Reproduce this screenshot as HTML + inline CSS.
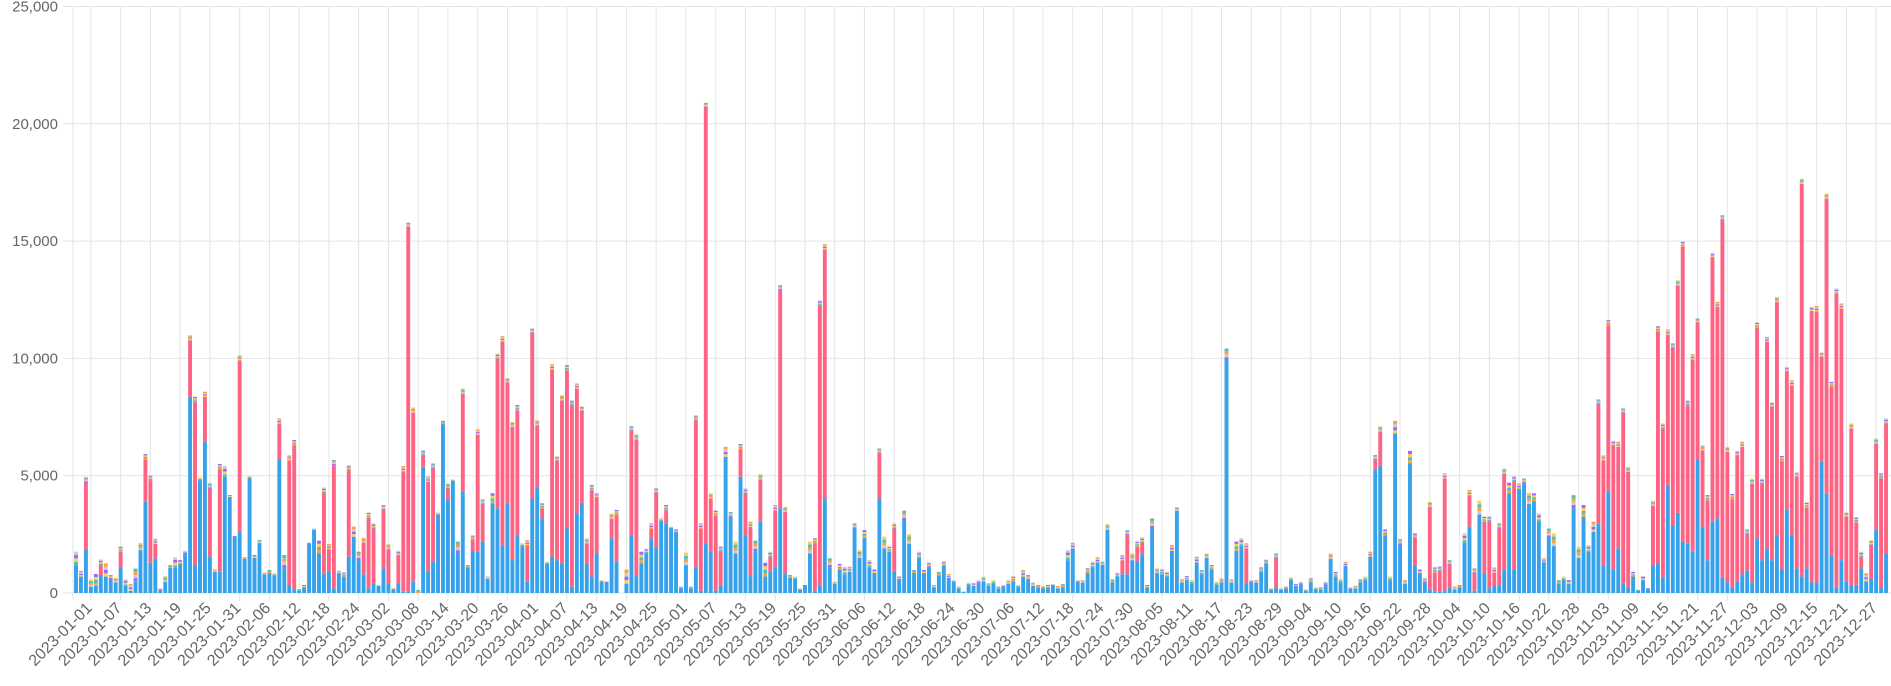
<!DOCTYPE html>
<html><head><meta charset="utf-8">
<style>
html,body{margin:0;padding:0;background:#fff;}
svg{display:block;}
text{font-family:"Liberation Sans",Arial,sans-serif;fill:#666;font-size:15px;}
text.xl{font-size:16px;}
</style></head>
<body>
<svg id="c" width="1891" height="686" xmlns="http://www.w3.org/2000/svg"></svg>
<script>
const T=[1760,950,4930,580,810,1430,1260,770,650,1970,580,380,1040,2140,5920,5030,2310,200,720,1190,1520,1400,1800,10990,8360,4930,8580,4670,1000,5500,5410,4170,2430,10140,1520,4980,1620,2260,870,980,840,7440,1620,5880,6520,160,340,2140,2750,2230,4500,2090,5670,950,870,5450,2830,1760,2370,3420,2970,340,3750,2090,200,1800,5410,15780,7910,130,6090,4960,5520,3420,7340,4670,4840,2190,8720,1190,2470,6970,3990,700,4250,10210,10950,9140,7300,8010,2120,2260,11270,7370,3820,1330,9750,5810,8430,9710,8220,8930,7940,2330,4600,4270,550,480,3390,3540,0,1000,7110,6770,1760,1900,2970,4460,3180,3750,2830,2710,270,
1720,270,7580,2970,20890,4250,3510,2000,6230,3450,2190,6350,4460,3040,2230,5070,1290,1760,3750,13120,3680,770,700,200,340,2190,2330,12480,14870,1480,480,1240,1120,1120,2970,1830,2680,1400,1000,6160,2400,1970,2970,700,3510,2510,980,1760,980,1290,340,900,1360,810,550,270,60,440,410,550,700,410,550,270,340,530,700,340,980,770,440,340,300,340,380,300,380,1830,2140,550,550,1050,1330,1520,1330,2940,580,870,1620,2680,1690,2190,2370,340,3180,1050,1000,900,2040,3650,580,720,550,1550,980,1690,1190,480,620,10420,580,2190,2330,2120,550,550,1090,1430,200,1690,200,270,670,380,
480,160,620,240,240,480,1690,900,600,1330,240,300,580,700,1760,5880,7110,2710,700,7340,2290,550,6060,2570,1000,620,3890,1090,1150,5100,1400,270,340,2540,4390,1050,3930,3250,3280,1090,2970,5310,4700,4980,4670,4880,4270,4250,3390,1480,2750,2540,550,700,550,4170,1970,3750,2040,3040,8250,5880,11630,6490,6450,7870,5380,900,130,700,200,3930,11370,7230,11230,10640,13330,14970,8220,10180,11700,6300,4170,14500,12410,16100,6230,4220,6060,6450,2710,4880,11520,4880,10920,8110,12620,5840,9640,9070,5130,17660,3850,12200,12230,10240,17030,9000,12980,12340,3420,7230,3220,1760,840,2230,6590,5100,7440];
const B=[1190,700,1830,270,300,770,700,600,450,1090,300,100,500,1830,3890,1290,1480,100,470,1070,1070,1260,1650,8360,1190,4800,6450,1550,900,900,4950,4100,2400,2610,1450,4900,1500,2100,800,850,750,5670,1050,340,130,100,250,2100,2700,1700,840,900,200,850,700,1550,2400,1400,800,200,400,300,1050,400,150,400,50,50,480,0,5380,900,1330,3350,7200,3960,4800,1700,4320,1100,1770,1760,2190,600,3820,3610,2000,3820,1400,2470,2000,480,4030,4530,3180,1250,1550,1400,1270,2750,270,3390,3850,1270,700,1700,500,450,2330,1330,0,400,2470,720,1270,1700,2330,1970,3100,2970,2750,2600,200,
1190,200,1120,100,2120,1760,100,300,5810,3250,1690,4960,2470,720,1760,3040,700,900,1120,3610,840,650,600,150,300,1690,100,300,4030,1100,400,1000,800,900,2750,1500,2350,1100,850,4030,1900,1750,900,600,3110,2100,850,1500,850,1100,250,750,1150,650,450,200,40,350,300,400,500,300,400,200,250,400,500,250,700,550,300,250,200,250,300,200,250,1400,1900,450,450,850,1100,1300,1150,2700,450,700,800,800,1400,1350,1650,250,2750,850,800,700,1800,3450,450,550,400,1300,800,1500,1000,350,450,9930,450,1800,2000,400,450,450,900,1250,150,250,150,200,550,300,
350,100,450,150,150,350,1450,700,450,1150,150,200,450,550,1550,5240,5450,2450,550,6800,2050,400,5520,1150,850,450,150,50,50,100,250,150,250,2150,2830,100,3350,850,200,300,300,1000,4250,1000,4450,4700,3800,3900,3050,1300,2350,2000,400,550,400,3610,1500,3250,1750,2600,2970,1150,4320,1000,1900,400,250,700,100,550,150,1150,1260,650,4560,2900,3420,2190,2100,1760,5670,2830,1400,3040,3180,650,450,250,500,800,950,450,2330,1400,1900,1400,2470,1000,3540,2470,1050,700,1050,450,450,5600,4250,1620,250,1400,500,300,350,1050,500,600,2680,250,1690];
const colsCap=['#4bc0c0','#ffcd56','#9966ff','#c9cbcf','#ff9f40'];
const svg=document.getElementById('c');
let h='';
const y0=593, k=117.3/5000, x0=76, p=4.959, bw=3.9;
const Y=v=>y0-v*k;
for(let i=0;i<=5;i++){const y=Y(i*5000);
 h+=`<line x1="63" x2="1891" y1="${y}" y2="${y}" stroke="#e4e4e4" stroke-width="1"/>`;
 h+=`<text x="58" y="${y+5}" text-anchor="end">${(i*5000).toLocaleString('en-US')}</text>`;}
h+=`<line x1="73" x2="73" y1="6" y2="601" stroke="#e4e4e4"/>`;
const d0=new Date(Date.UTC(2023,0,1));
for(let j=0;j<=60;j++){const x=x0+p*(3+6*j);
 h+=`<line x1="${x}" x2="${x}" y1="6" y2="601" stroke="#e4e4e4"/>`;
 const d=new Date(d0.getTime()+j*6*86400000);
 const s=d.toISOString().slice(0,10);
 h+=`<text class="xl" transform="translate(${x+2},${609}) rotate(-45)" text-anchor="end">${s}</text>`;}
for(let i=0;i<T.length;i++){
 const t=T[i]; if(t<=0) continue;
 let b=Math.min(B[i],t); const x=x0+p*i-bw/2;
 let cur=0;
 const seg=(v,c)=>{if(v<=0)return;const ya=Y(cur+v),yb=Y(cur);h+=`<rect x="${x.toFixed(2)}" y="${ya.toFixed(2)}" width="${bw}" height="${Math.max(yb-ya,0.3).toFixed(2)}" fill="${c}"/>`;cur+=v;};
 seg(b,'#36a2eb');
 let r=t-b;
 let cap=Math.min(r, r>600?220:r);
 let pink=r-cap;
 seg(pink,'#ff6384');
 const n=cap>150?4:(cap>60?2:1);
 for(let m=0;m<n;m++) seg(cap/n, colsCap[(i+m)%5]);
}
svg.innerHTML=h;
</script>
</body></html>
